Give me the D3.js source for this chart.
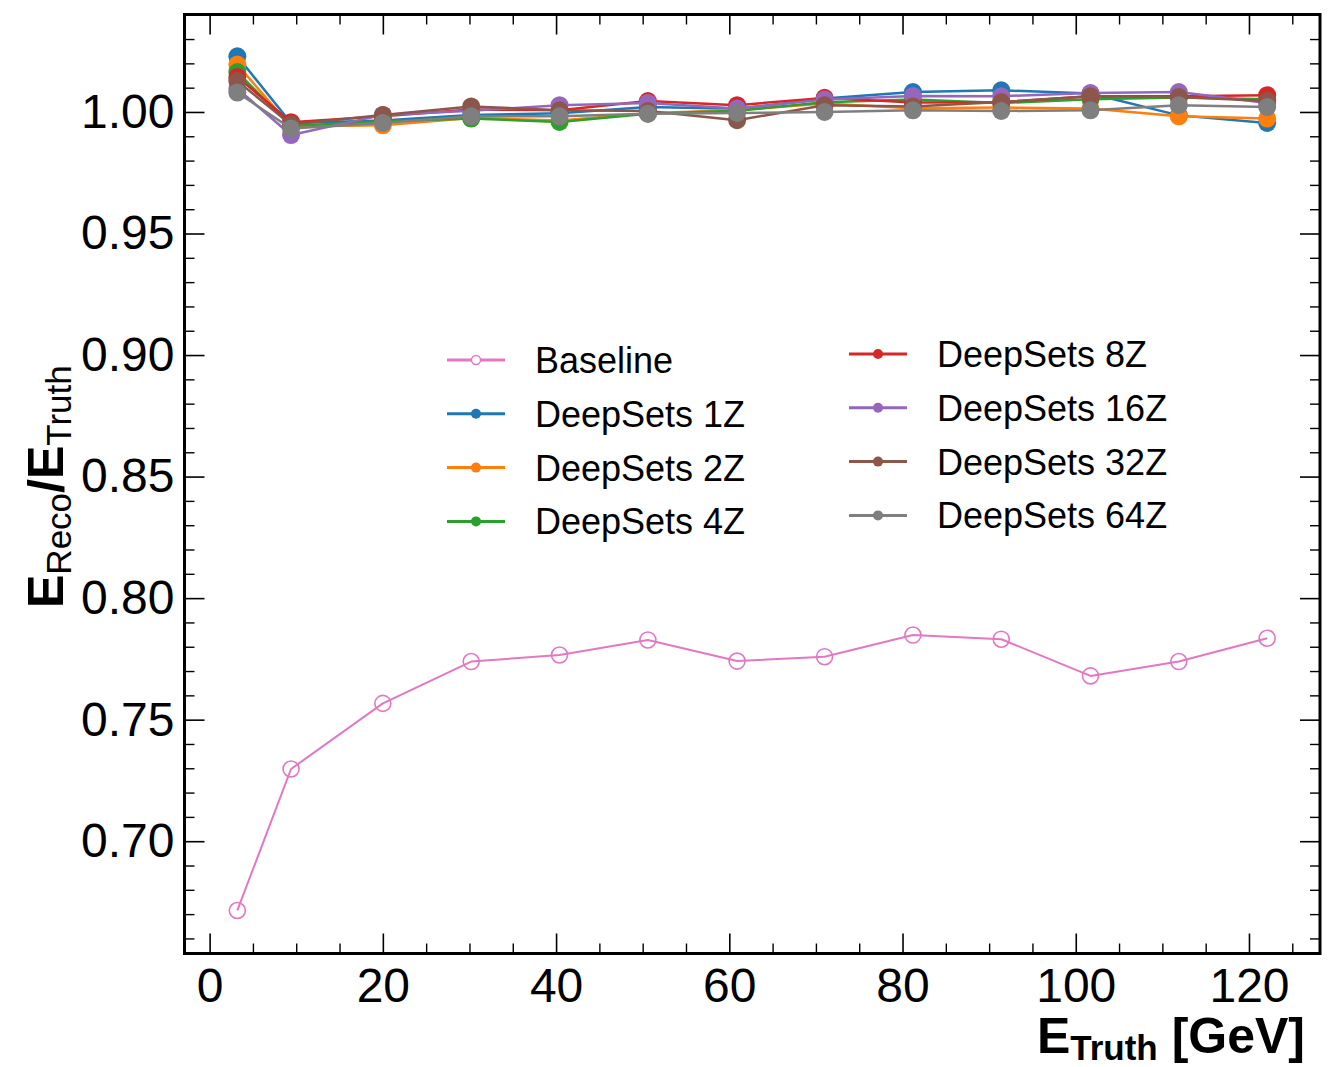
<!DOCTYPE html>
<html>
<head>
<meta charset="utf-8">
<script src="https://cdn.jsdelivr.net/npm/d3@7"></script>
<style>
  html, body { margin: 0; padding: 0; background: #fff; }
  svg { display: block; font-family: "Liberation Sans", Arial, Helvetica, sans-serif; }
</style>
</head>
<body>
<svg id="chart" width="1334" height="1067"></svg>
<script>
// Truth-energy bin centres [GeV]
const eTruth = [3.2, 9.4, 20.0, 30.2, 40.4, 50.6, 60.9, 71.0, 81.2, 91.4, 101.7, 111.9, 122.1];

// Response E_Reco / E_Truth per model
const baseline   = [0.6715, 0.7297, 0.7567, 0.7739, 0.7766, 0.7828, 0.7741, 0.7759, 0.7848, 0.7831, 0.7680, 0.7739, 0.7835];
const deepSets1Z  = [1.0229, 0.9955, 0.9965, 0.9988, 0.9995, 1.0020, 1.0013, 1.0055, 1.0082, 1.0089, 1.0076, 0.9986, 0.9955];
const deepSets2Z  = [1.0195, 0.9940, 0.9945, 0.9975, 0.9965, 0.9995, 1.0008, 1.0035, 1.0015, 1.0018, 1.0014, 0.9982, 0.9973];
const deepSets4Z  = [1.0164, 0.9942, 0.9962, 0.9973, 0.9959, 0.9993, 1.0005, 1.0040, 1.0051, 1.0037, 1.0052, 1.0060, 1.0052];
const deepSets8Z  = [1.0144, 0.9958, 0.9982, 1.0010, 1.0007, 1.0045, 1.0028, 1.0058, 1.0039, 1.0040, 1.0065, 1.0065, 1.0069];
const deepSets16Z = [1.0096, 0.9905, 0.9988, 1.0005, 1.0028, 1.0037, 1.0014, 1.0051, 1.0066, 1.0065, 1.0078, 1.0082, 1.0037];
const deepSets32Z = [1.0127, 0.9948, 0.9988, 1.0023, 1.0007, 1.0004, 0.9966, 1.0028, 1.0023, 1.0041, 1.0065, 1.0062, 1.0045];
const deepSets64Z = [1.0080, 0.9932, 0.9955, 0.9982, 0.9982, 0.9993, 0.9996, 1.0000, 1.0007, 1.0004, 1.0007, 1.0028, 1.0020];

const seriesNames  = ["Baseline", "DeepSets 1Z", "DeepSets 2Z", "DeepSets 4Z", "DeepSets 8Z", "DeepSets 16Z", "DeepSets 32Z", "DeepSets 64Z"];
const seriesValues = [baseline, deepSets1Z, deepSets2Z, deepSets4Z, deepSets8Z, deepSets16Z, deepSets32Z, deepSets64Z];
const seriesColors = ["#e377c2", "#1f77b4", "#ff7f0e", "#2ca02c", "#d62728", "#9467bd", "#8c564b", "#7f7f7f"];

// Tick values
const xMajorTicks = [0, 20, 40, 60, 80, 100, 120];
const xMinorTicks = d3.range(0, 130, 5).filter(v => v % 20 !== 0);
const yMajorTicks = [0.70, 0.75, 0.80, 0.85, 0.90, 0.95, 1.00];
const yMinorTicks = d3.range(66, 105).map(v => v / 100).filter(v => Math.round(v * 100) % 5 !== 0);

// Plot frame
const frame = { left: 184.5, right: 1320, top: 14.5, bottom: 953.5 };

const svg = d3.select("#chart");

const x = d3.scaleLinear().domain([-2.9, 128.2]).range([frame.left, frame.right]);
const y = d3.scaleLinear().domain([0.6538, 1.0401]).range([frame.bottom, frame.top]);

const tickFont = 48;

function styleAxis(g, width) {
  g.select(".domain").remove();
  g.selectAll(".tick line").attr("stroke", "#000").attr("stroke-width", width);
  g.selectAll(".tick text").attr("fill", "#000").attr("font-size", tickFont);
}

// Bottom axis (inward ticks)
svg.append("g")
  .attr("transform", `translate(0,${frame.bottom})`)
  .call(d3.axisBottom(x).tickValues(xMajorTicks).tickFormat(d3.format("d"))
        .tickSizeInner(-20).tickSizeOuter(0).tickPadding(14))
  .call(g => styleAxis(g, 1.6));
svg.append("g")
  .attr("transform", `translate(0,${frame.bottom})`)
  .call(d3.axisBottom(x).tickValues(xMinorTicks).tickFormat("")
        .tickSizeInner(-10).tickSizeOuter(0))
  .call(g => styleAxis(g, 1.4));

// Top axis (ticks only)
svg.append("g")
  .attr("transform", `translate(0,${frame.top})`)
  .call(d3.axisTop(x).tickValues(xMajorTicks).tickFormat("").tickSizeInner(-20).tickSizeOuter(0))
  .call(g => styleAxis(g, 1.6));
svg.append("g")
  .attr("transform", `translate(0,${frame.top})`)
  .call(d3.axisTop(x).tickValues(xMinorTicks).tickFormat("").tickSizeInner(-10).tickSizeOuter(0))
  .call(g => styleAxis(g, 1.4));

// Left axis
svg.append("g")
  .attr("transform", `translate(${frame.left},0)`)
  .call(d3.axisLeft(y).tickValues(yMajorTicks).tickFormat(d3.format(".2f"))
        .tickSizeInner(-20).tickSizeOuter(0).tickPadding(10))
  .call(g => styleAxis(g, 1.6));
svg.append("g")
  .attr("transform", `translate(${frame.left},0)`)
  .call(d3.axisLeft(y).tickValues(yMinorTicks).tickFormat("").tickSizeInner(-10).tickSizeOuter(0))
  .call(g => styleAxis(g, 1.4));

// Right axis (ticks only)
svg.append("g")
  .attr("transform", `translate(${frame.right},0)`)
  .call(d3.axisRight(y).tickValues(yMajorTicks).tickFormat("").tickSizeInner(-20).tickSizeOuter(0))
  .call(g => styleAxis(g, 1.6));
svg.append("g")
  .attr("transform", `translate(${frame.right},0)`)
  .call(d3.axisRight(y).tickValues(yMinorTicks).tickFormat("").tickSizeInner(-10).tickSizeOuter(0))
  .call(g => styleAxis(g, 1.4));

// Data series
const line = d3.line().x((d, i) => x(eTruth[i])).y(d => y(d));
const plot = svg.append("g");

seriesValues.forEach((vals, s) => {
  const isBaseline = s === 0;
  const g = plot.append("g");
  g.append("path")
    .datum(vals)
    .attr("d", line)
    .attr("fill", "none")
    .attr("stroke", seriesColors[s])
    .attr("stroke-width", isBaseline ? 2 : 2.5)
    .attr("stroke-linejoin", "round");
  g.selectAll("circle")
    .data(vals)
    .join("circle")
    .attr("cx", (d, i) => x(eTruth[i]))
    .attr("cy", d => y(d))
    .attr("r", isBaseline ? 8 : 9)
    .attr("fill", isBaseline ? "none" : seriesColors[s])
    .attr("stroke", seriesColors[s])
    .attr("stroke-width", isBaseline ? 1.6 : 0);
});

// Frame
svg.append("rect")
  .attr("x", frame.left).attr("y", frame.top)
  .attr("width", frame.right - frame.left).attr("height", frame.bottom - frame.top)
  .attr("fill", "none").attr("stroke", "#000").attr("stroke-width", 3);

// Legend: two columns of four entries
const legendCols = [
  { handleX: 447, textX: 535, rowY: 360 },
  { handleX: 849, textX: 937, rowY: 354 }
];
const legendStep = 53.8;
const legend = svg.append("g");
seriesNames.forEach((name, s) => {
  const col = legendCols[Math.floor(s / 4)];
  const ly = col.rowY + (s % 4) * legendStep;
  const g = legend.append("g");
  g.append("line")
    .attr("x1", col.handleX).attr("x2", col.handleX + 58)
    .attr("y1", ly).attr("y2", ly)
    .attr("stroke", seriesColors[s]).attr("stroke-width", 3);
  g.append("circle")
    .attr("cx", col.handleX + 29).attr("cy", ly)
    .attr("r", s === 0 ? 4.5 : 5)
    .attr("fill", s === 0 ? "#fff" : seriesColors[s])
    .attr("stroke", seriesColors[s]).attr("stroke-width", s === 0 ? 1.4 : 0);
  g.append("text")
    .attr("x", col.textX).attr("y", ly)
    .attr("dy", "0.36em")
    .attr("font-size", 36)
    .attr("fill", "#000")
    .text(name);
});

// Axis titles
const xTitle = svg.append("text")
  .attr("x", 1305).attr("y", 1053)
  .attr("text-anchor", "end")
  .attr("font-weight", "bold")
  .attr("font-size", 50)
  .attr("fill", "#000");
xTitle.append("tspan").text("E");
xTitle.append("tspan").attr("font-size", 35).attr("dy", 7).text("Truth");
xTitle.append("tspan").attr("dy", -7).text(" [GeV]");

const yTitle = svg.append("text")
  .attr("transform", "translate(63,608) rotate(-90)")
  .attr("text-anchor", "start")
  .attr("font-size", 50)
  .attr("fill", "#000");
yTitle.append("tspan").attr("font-weight", "bold").text("E");
yTitle.append("tspan").attr("font-size", 35).attr("dy", 8).text("Reco");
yTitle.append("tspan").attr("font-weight", "bold").attr("dy", -8).text("/E");
yTitle.append("tspan").attr("font-size", 35).attr("dy", 8).text("Truth");
</script>
</body>
</html>
